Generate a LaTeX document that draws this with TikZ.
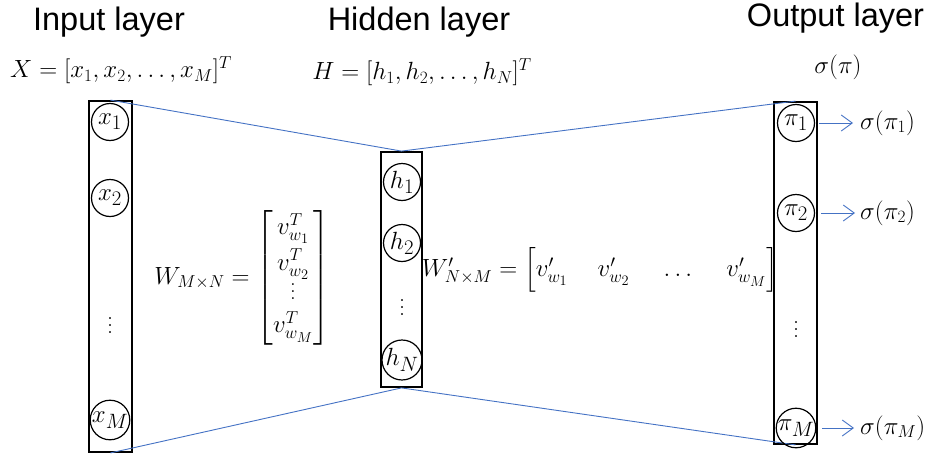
\documentclass[tikz,border=0pt]{standalone}
\usepackage{amsmath}
\usepackage{fontspec}
\newfontfamily\arialf{Liberation Sans}
\usetikzlibrary{arrows.meta}
\definecolor{lineblue}{RGB}{68,114,196}
\renewcommand\defaultscriptratio{.78}
\renewcommand\defaultscriptscriptratio{.64}
\newcommand\vdotsbig{\vbox{\baselineskip=0.3em\lineskiplimit=0pt\kern0.2em\hbox{.}\hbox{.}\hbox{.}}}
\begin{document}
\begin{tikzpicture}[x=1pt,y=-1pt,
 layerbox/.style={draw, line width=1.8pt, inner sep=0pt, minimum width=43pt},
 neuron/.style={draw, circle, line width=1.2pt, inner sep=0pt, minimum size=37pt, font=\fontsize{25}{29}\selectfont},
 title/.style={font=\fontsize{32.5}{36}\arialf, inner sep=0pt},
 eqn/.style={font=\fontsize{23}{27}\selectfont, inner sep=0pt},
 vdotsnode/.style={font=\fontsize{24}{28}\selectfont, inner sep=0pt},
 link/.style={draw=lineblue, line width=0.9pt},
 outarr/.style={draw=lineblue, line width=0.9pt, -{Straight Barb[length=11pt,width=16pt]}}
]
\useasboundingbox (0,0) rectangle (931,458);

% layer boxes
\node[layerbox, minimum height=351pt] (inbox) at (110.5,276.5) {};
\node[layerbox, minimum width=41pt, minimum height=235pt] (hidbox) at (401.5,269.5) {};
\node[layerbox, minimum height=342pt] (outbox) at (795.5,273) {};

% connecting lines
\draw[link] (inbox.north) -- (hidbox.north) -- (outbox.north);
\draw[link] (inbox.south) -- (hidbox.south) -- (outbox.south);

% input neurons
\node[neuron] (x1) at (110,122) {$x_1$};
\node[neuron] (x2) at (110,198) {$x_2$};
\node[vdotsnode] (xd) at (110,323) {\vdotsbig};
\node[neuron] (xM) at (110,420) {$x_M$};

% hidden neurons
\node[neuron] (h1) at (402,182) {$h_1$};
\node[neuron] (h2) at (402,243) {$h_2$};
\node[vdotsnode] (hd) at (402,305) {\vdotsbig};
\node[neuron] (hN) at (402,360) {$h_N$};

% output neurons
\node[neuron] (p1) at (796,123) {$\pi_1$};
\node[neuron] (p2) at (796,213) {$\pi_2$};
\node[vdotsnode] (pd) at (796,327) {\vdotsbig};
\node[neuron] (pM) at (796,428) {$\pi_M$};

% titles
\node[title] (tin) at (109,22.5) {Input layer};
\node[title] (thid) at (419,22) {Hidden layer};
\node[title] (tout) at (835.5,18) {Output layer};

% vector labels
\node[eqn] (eqX) at (121,70) {$X=[x_1,x_2,\ldots,x_M]^T$};
\node[eqn] (eqH) at (422,72) {$H=[h_1,h_2,\ldots,h_N]^T$};
\node[eqn] (eqS) at (838,67) {$\sigma(\pi)$};

% weight matrices
\node[eqn] (eqW) at (242,278) {$W_{M\times N}=\begin{bmatrix} v_{w_1}^T\\[7pt] v_{w_2}^T\\[1pt] \vdotsbig\\[4pt] v_{w_M}^T\end{bmatrix}$};
\node[eqn] (eqWp) at (600,270) {$W'_{N\times M}=\Bigl[v'_{w_1}\quad\; v'_{w_2}\quad\; \ldots\quad\; v'_{w_M}\Bigr]$};

% outputs
\node[eqn, anchor=west] (s1) at (860,123) {$\sigma(\pi_1)$};
\node[eqn, anchor=west] (s2) at (860,213) {$\sigma(\pi_2)$};
\node[eqn, anchor=west] (sM) at (860,428) {$\sigma(\pi_M)$};

\draw[outarr] ([xshift=4pt]p1.east) -- ([xshift=-7pt]s1.west);
\draw[outarr] ([xshift=6pt]p2.east) -- ([xshift=-5pt]s2.west);
\draw[outarr] ([xshift=6pt]pM.east) -- ([xshift=-6pt]sM.west);
\end{tikzpicture}
\end{document}
